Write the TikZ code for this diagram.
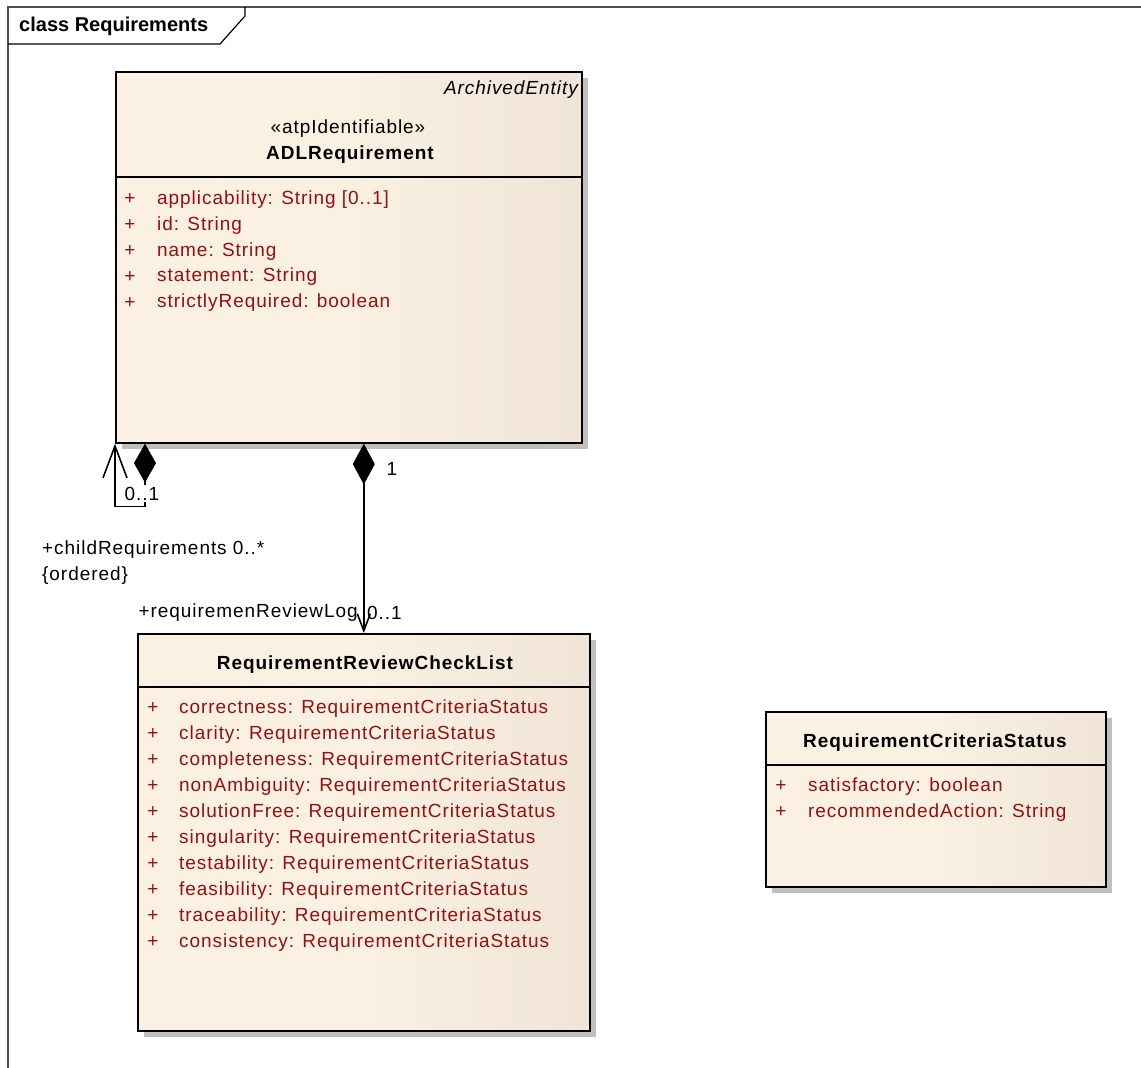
\documentclass[tikz,border=0pt]{standalone}
\usepackage{fontspec}
\setmainfont{Liberation Sans}
\newfontfamily\wideFont[LetterSpace=5]{Liberation Sans}
\usetikzlibrary{arrows.meta,shadows,calc}
\definecolor{clsL}{HTML}{FBF1E3}
\definecolor{clsR}{HTML}{E4D9C9}
\definecolor{attr}{RGB}{150,15,15}
\definecolor{frameline}{RGB}{80,80,80}
\pgfdeclarehorizontalshading{classfill}{100bp}{color(0bp)=(clsL); color(50bp)=(clsL); color(100bp)=(clsR)}

\begin{document}
\begin{tikzpicture}[x=1pt,y=-1pt,
  classbox/.style={draw=black, line width=1.6pt, shade, shading=classfill,
    anchor=north west, inner sep=0pt,
    drop shadow={shadow xshift=6pt, shadow yshift=-6pt, fill=black!25, opacity=1}},
  sepline/.style={line width=1.2pt},
  lowered/.style={yshift=-2.5pt},
  attrtxt/.style={lowered, anchor=west, text=attr, inner sep=0pt,
    font=\wideFont\fontsize{19}{23}\selectfont},
  plus/.style={lowered, text=attr, inner sep=0pt, font=\fontsize{19}{23}\selectfont},
  clsname/.style={lowered, inner sep=0pt, font=\wideFont\bfseries\fontsize{19}{23}\selectfont},
  clsnote/.style={lowered, inner sep=0pt, font=\wideFont\fontsize{19}{23}\selectfont},
  rolelabel/.style={lowered, inner sep=0pt, font=\wideFont\fontsize{19}{23}\selectfont},
  assoc/.style={line width=1.6pt},
]
\useasboundingbox (0,0) rectangle (1141,1068);

% diagram frame with its name tab
\draw[frameline, line width=1.5pt] (8,1068) -- (8,7) -- (1141,7);
\draw[line width=1.2pt] (8,44) -- (220,44) -- (245,16) -- (245,7);
\node[anchor=west, inner sep=0pt, yshift=-1pt, font=\bfseries\fontsize{20}{24}\selectfont] (frametitle) at (19,25) {class Requirements};

% ADLRequirement
\node[classbox, minimum width=466pt, minimum height=371pt] (adl) at (115,71) {};
\draw[sepline] ($(adl.north west)+(0,106)$) -- ($(adl.north east)+(0,106)$);
\node[lowered, anchor=east, inner sep=0pt, font=\wideFont\itshape\fontsize{19}{23}\selectfont] (adlparent) at (578,87) {ArchivedEntity};
\node[clsnote] (adlstereo) at (348,126) {«atpIdentifiable»};
\node[clsname] (adlname) at (350,152) {ADLRequirement};
\foreach \t [count=\i from 0] in {applicability: String [0..1], id: String, name: String, statement: String, strictlyRequired: boolean} {
  \node[plus] (adlp\i) at (130,{197+25.8*\i}) {+};
  \node[attrtxt] (adla\i) at (157,{197+25.8*\i}) {\t};
}

% RequirementReviewCheckList
\node[classbox, minimum width=452pt, minimum height=397pt] (rrcl) at (137,633) {};
\draw[sepline] ($(rrcl.north west)+(0,54)$) -- ($(rrcl.north east)+(0,54)$);
\node[clsname] (rrclname) at (365,662) {RequirementReviewCheckList};
\foreach \t [count=\i from 0] in {correctness: RequirementCriteriaStatus, clarity: RequirementCriteriaStatus, completeness: RequirementCriteriaStatus, nonAmbiguity: RequirementCriteriaStatus, solutionFree: RequirementCriteriaStatus, singularity: RequirementCriteriaStatus, testability: RequirementCriteriaStatus, feasibility: RequirementCriteriaStatus, traceability: RequirementCriteriaStatus, consistency: RequirementCriteriaStatus} {
  \node[plus] (rrclp\i) at (153,{706+26*\i}) {+};
  \node[attrtxt] (rrcla\i) at (179,{706+26*\i}) {\t};
}

% RequirementCriteriaStatus
\node[classbox, minimum width=340pt, minimum height=175pt] (rcs) at (765,711) {};
\draw[sepline] ($(rcs.north west)+(0,54)$) -- ($(rcs.north east)+(0,54)$);
\node[clsname] (rcsname) at (935,740) {RequirementCriteriaStatus};
\node[plus] (rcsp0) at (781,784) {+};
\node[attrtxt] (rcsa0) at (808,784) {satisfactory: boolean};
\node[plus] (rcsp1) at (781,810) {+};
\node[attrtxt] (rcsa1) at (808,810) {recommendedAction: String};

% composition ADLRequirement -> RequirementReviewCheckList
\draw[assoc, {Diamond[length=41pt,width=22pt]}-{Straight Barb[length=17pt,width=13pt]}]
  (adl.south -| rrcl.north) -- (rrcl.north);
\node[rolelabel] (multone) at (392,466) {1};
\node[rolelabel, anchor=east] (reviewrole) at (358,610) {+requiremenReviewLog};
\node[rolelabel, anchor=west] (reviewmult) at (367,610) {0..1};

% recursive composition of child requirements
\draw[assoc, {Diamond[length=39pt,width=22pt]}-{Straight Barb[length=32pt,width=24pt]}]
  ($(adl.south west)+(30,0)$) -- ++(0,63) -| (adl.south west);
\node[rolelabel, fill=white, inner sep=1.5pt] (childmult) at (142,491) {0..1};
\node[rolelabel, anchor=west] (childrole) at (42,547) {+childRequirements 0..*};
\node[rolelabel, anchor=west] (childorder) at (42,573) {\{ordered\}};
\end{tikzpicture}
\end{document}
